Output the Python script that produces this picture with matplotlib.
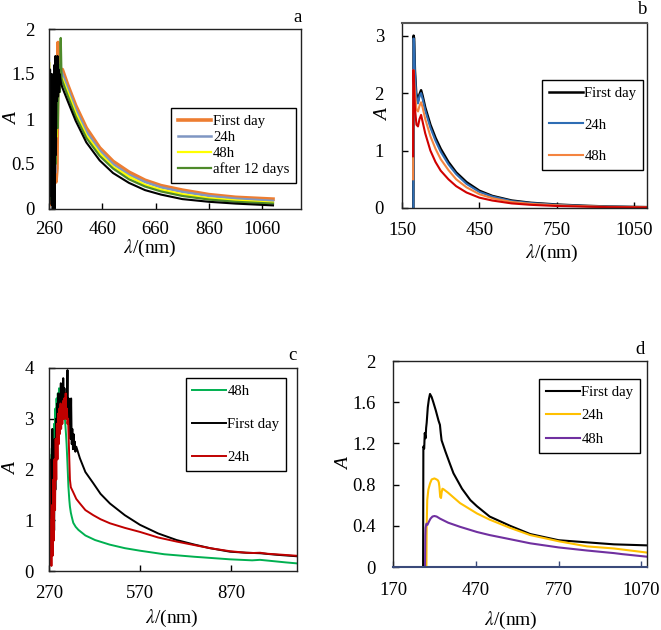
import matplotlib
matplotlib.use("Agg")
import matplotlib.pyplot as plt

plt.rcParams['font.family'] = ['Liberation Serif', 'DejaVu Serif']
plt.rcParams['mathtext.fontset'] = 'stix'

# ---------------- Panel a ----------------
a_first_x = [261, 263, 266, 270, 274, 278, 282, 286, 290, 292, 294, 297, 300, 305, 310, 330, 360, 400, 450, 500, 560, 620, 680, 760, 860, 960, 1100]
a_first_y = [0.1, 0.05, 0.05, 0.3, 0.6, 0.2, 0.8, 0.3, 0.45, 1.2, 1.85, 1.6, 1.5, 1.55, 1.55, 1.38, 1.15, 0.90, 0.68, 0.53, 0.41, 0.32, 0.26, 0.21, 0.16, 0.13, 0.11]
a_24h_x = [261, 264, 267, 271, 275, 279, 283, 287, 291, 295, 299, 303, 310, 330, 360, 400, 450, 500, 560, 620, 680, 760, 860, 960, 1100]
a_24h_y = [0.5, 1.0, 0.2, 0.9, 0.1, 0.8, 0.4, 1.2, 0.9, 1.5, 1.4, 1.55, 1.5, 1.34, 1.11, 0.86, 0.65, 0.50, 0.38, 0.30, 0.24, 0.19, 0.145, 0.115, 0.09]
a_48h_x = [261, 263, 265, 268, 272, 276, 280, 284, 288, 292, 296, 300, 305, 310, 330, 360, 400, 450, 500, 560, 620, 680, 760, 860, 960, 1100]
a_48h_y = [1.62, 1.2, 0.3, 0.9, 0.2, 1.0, 0.5, 1.2, 0.8, 1.4, 1.6, 1.5, 1.47, 1.45, 1.30, 1.07, 0.82, 0.62, 0.47, 0.36, 0.27, 0.215, 0.165, 0.12, 0.095, 0.07]
a_12d_x = [261, 263, 266, 269, 273, 277, 281, 285, 289, 293, 297, 301, 304, 307, 310, 330, 360, 400, 450, 500, 560, 620, 680, 760, 860, 960, 1100]
a_12d_y = [1.3, 0.2, 1.1, 0.1, 0.9, 0.3, 1.3, 0.5, 1.5, 0.9, 1.6, 1.3, 1.9, 1.45, 1.42, 1.26, 1.03, 0.79, 0.59, 0.45, 0.33, 0.25, 0.195, 0.145, 0.105, 0.08, 0.06]
a_blk_x = [262, 264, 266, 268, 270, 272, 274, 276, 278, 280, 282, 284, 286, 288, 290, 292, 294, 296, 298, 300, 305, 310, 330, 360, 400, 450, 500, 560, 620, 680, 760, 860, 960, 1100]
a_blk_y = [0.3, 1.55, 0.15, 1.5, 0.05, 1.45, 0.0, 1.5, 0.2, 1.6, 0.0, 1.7, 0.6, 1.45, 1.2, 1.7, 1.25, 1.55, 1.3, 1.5, 1.4, 1.35, 1.20, 0.98, 0.74, 0.54, 0.40, 0.29, 0.21, 0.16, 0.11, 0.08, 0.06, 0.04]
a_xticks = [260, 460, 660, 860, 1060]
a_yticks = [0, 0.5, 1, 1.5, 2]
a_yticklabels = ['0', '0.5', '1', '1.5', '2']

# ---------------- Panel b ----------------
b_first_x = [194, 195, 197, 200, 205, 212, 218, 224, 230, 240, 260, 280, 300, 330, 360, 400, 450, 500, 575, 650, 750, 850, 950, 1100]
b_first_y = [0.0, 3.0, 2.95, 2.4, 2.0, 1.86, 1.98, 2.05, 1.95, 1.75, 1.45, 1.22, 1.03, 0.80, 0.62, 0.45, 0.30, 0.21, 0.13, 0.09, 0.06, 0.04, 0.025, 0.015]
b_24h_x = [194, 195, 197, 200, 205, 212, 218, 224, 230, 240, 260, 280, 300, 330, 360, 400, 450, 500, 575, 650, 750, 850, 950, 1100]
b_24h_y = [0.0, 2.95, 2.9, 2.35, 1.95, 1.82, 1.95, 2.0, 1.9, 1.7, 1.4, 1.17, 0.98, 0.76, 0.59, 0.42, 0.28, 0.20, 0.12, 0.085, 0.055, 0.037, 0.023, 0.014]
b_48h_x = [193, 194, 196, 200, 206, 212, 218, 224, 230, 240, 260, 280, 300, 330, 360, 400, 450, 500, 575, 650, 750, 850, 950, 1100]
b_48h_y = [0.5, 2.4, 2.3, 2.0, 1.72, 1.68, 1.78, 1.84, 1.75, 1.55, 1.25, 1.03, 0.85, 0.66, 0.50, 0.36, 0.24, 0.17, 0.105, 0.072, 0.047, 0.032, 0.02, 0.012]
b_red_x = [193, 194, 196, 200, 206, 212, 218, 224, 230, 240, 260, 280, 300, 330, 360, 400, 450, 500, 575, 650, 750, 850, 950, 1100]
b_red_y = [0.9, 2.4, 2.2, 1.75, 1.45, 1.42, 1.55, 1.62, 1.5, 1.3, 1.0, 0.8, 0.65, 0.50, 0.38, 0.27, 0.18, 0.13, 0.08, 0.055, 0.035, 0.025, 0.015, 0.01]
b_xticks = [150, 450, 750, 1050]
b_yticks = [0, 1, 2, 3]

# ---------------- Panel c ----------------
c_48h_x = [271, 273, 275, 277, 279, 281, 283, 285, 287, 289, 291, 293, 295, 297, 299, 301, 303, 306, 309.6, 312, 316, 320, 323, 326, 328, 331, 334, 337, 339, 342, 345, 350, 358, 367, 390, 422, 470, 520, 570, 650, 750, 867, 940, 966, 1000, 1050, 1088]
c_48h_y = [2.4, 0.8, 2.0, 0.5, 2.3, 0.9, 2.7, 1.3, 2.9, 2.0, 3.2, 2.6, 3.4, 3.0, 3.5, 3.2, 3.6, 3.4, 3.67, 3.4, 3.2, 3.0, 2.97, 2.7, 2.5, 2.1, 1.66, 1.4, 1.27, 1.15, 1.07, 0.95, 0.87, 0.81, 0.70, 0.61, 0.52, 0.45, 0.40, 0.33, 0.28, 0.23, 0.21, 0.22, 0.20, 0.17, 0.15]
c_first_x = [271, 273, 275, 277, 279, 281, 283, 285, 287, 289, 291, 293, 295, 297, 299, 301, 303, 305, 307, 309, 311, 313, 315, 317, 319, 321, 323, 325, 327, 329, 331, 333, 335, 337, 339, 341, 343, 345, 347, 349, 351, 353, 355, 357, 360, 372, 390, 416, 440, 471, 520, 570, 630, 691, 750, 801, 867, 920, 966, 1020, 1088]
c_first_y = [0.2, 1.5, 0.5, 2.2, 0.6, 2.8, 1.0, 2.0, 0.8, 2.6, 1.6, 3.0, 2.2, 3.3, 2.7, 3.5, 2.9, 3.4, 3.0, 3.7, 3.1, 3.6, 3.2, 3.8, 3.3, 3.6, 3.1, 3.5, 3.0, 3.3, 3.96, 3.0, 3.4, 2.9, 3.3, 2.6, 3.4, 2.5, 2.8, 2.4, 2.7, 2.4, 2.55, 2.35, 2.45, 2.22, 1.95, 1.73, 1.52, 1.33, 1.10, 0.91, 0.74, 0.61, 0.52, 0.45, 0.38, 0.36, 0.35, 0.32, 0.29]
c_24h_x = [270, 272, 274, 276, 278, 280, 282, 284, 286, 288, 290, 292, 294, 296, 298, 300, 302, 304, 306, 308, 310, 312, 314, 316, 318, 320, 322, 325, 327, 329, 331, 333, 335, 337, 339, 342, 346, 350, 360, 372, 390, 416, 440, 471, 520, 570, 630, 691, 750, 801, 867, 920, 945, 966, 990, 1040, 1088]
c_24h_y = [2.6, 1.5, 0.2, 1.0, 0.1, 1.3, 0.3, 1.8, 0.6, 2.2, 1.2, 2.6, 1.8, 2.9, 2.2, 3.1, 2.5, 3.2, 2.7, 3.3, 2.8, 3.2, 2.9, 3.35, 3.0, 3.4, 3.0, 3.5, 3.0, 3.2, 2.9, 3.0, 2.6, 2.2, 1.8, 1.65, 1.6, 1.55, 1.42, 1.33, 1.2, 1.10, 1.02, 0.94, 0.85, 0.77, 0.66, 0.58, 0.51, 0.45, 0.39, 0.36, 0.355, 0.36, 0.34, 0.32, 0.30]
c_xticks = [270, 570, 870]
c_yticks = [0, 1, 2, 3, 4]

# ---------------- Panel d ----------------
d_first_x = [279, 280, 283, 285, 288, 290, 292, 296, 300, 304, 310, 316, 325, 335, 340, 343, 346, 360, 375, 389, 420, 450, 474, 520, 594, 667, 770, 870, 970, 1090]
d_first_y = [0.0, 1.17, 1.15, 1.3, 1.25, 1.35, 1.4, 1.55, 1.63, 1.68, 1.65, 1.6, 1.52, 1.42, 1.38, 1.3, 1.23, 1.12, 1.01, 0.91, 0.76, 0.65, 0.59, 0.49, 0.40, 0.32, 0.26, 0.24, 0.22, 0.21]
d_24h_x = [291, 292, 294, 298, 304, 310, 320, 328, 333, 336, 338, 341, 344, 346, 349, 353, 370, 413, 474, 520, 594, 667, 770, 873, 970, 1090]
d_24h_y = [0.0, 0.4, 0.65, 0.75, 0.81, 0.85, 0.86, 0.85, 0.84, 0.82, 0.78, 0.68, 0.67, 0.72, 0.76, 0.755, 0.72, 0.62, 0.52, 0.46, 0.38, 0.31, 0.25, 0.20, 0.18, 0.14]
d_48h_x = [286, 287, 288, 291, 295, 300, 306, 313, 320, 328, 340, 370, 413, 474, 520, 594, 667, 770, 873, 950, 970, 1000, 1090]
d_48h_y = [0.0, 0.3, 0.38, 0.42, 0.41, 0.44, 0.47, 0.49, 0.495, 0.49, 0.47, 0.43, 0.39, 0.34, 0.31, 0.27, 0.23, 0.19, 0.16, 0.14, 0.135, 0.125, 0.10]
d_xticks = [170, 470, 770, 1070]
d_yticks = [0, 0.4, 0.8, 1.2, 1.6, 2]
d_yticklabels = ['0', '0.4', '0.8', '1.2', '1.6', '2']

W, H = 661, 630
fig = plt.figure(figsize=(W / 100, H / 100), dpi=100)
FS = 13.5


def make_ax(x0, y0, x1, y1):
    return fig.add_axes([x0 / W, 1 - y1 / H, (x1 - x0) / W, (y1 - y0) / H])


def style(ax, box, xpad, ypad, xlab_xy, ylab_x):
    x0, y0, x1, y1 = box
    w, h = x1 - x0, y1 - y0
    ax.tick_params(direction='in', length=4, labelsize=FS, width=1)
    ax.tick_params(axis='x', pad=xpad)
    ax.tick_params(axis='y', pad=ypad)
    for s in ax.spines.values():
        s.set_linewidth(1.0)
        s.set_color('#222222')
    ax.set_xlabel(r'$\lambda$/(nm)', fontsize=FS + 0.5)
    ax.xaxis.label.set_va('center')
    ax.xaxis.set_label_coords((xlab_xy[0] - x0) / w, -(xlab_xy[1] - y1) / h)
    ax.set_ylabel('A', style='italic', fontsize=FS + 0.5)
    ax.yaxis.label.set_va('center')
    ax.yaxis.set_label_coords((ylab_x - x0) / w, 0.5)


leg_kw = dict(fontsize=10.6, frameon=True, fancybox=False, framealpha=1,
              edgecolor='black', borderaxespad=0, handletextpad=0.1,
              borderpad=0.45)

# Panel a
box = (49, 29, 301, 209)
ax = make_ax(*box)
ax.plot(a_first_x, a_first_y, color='#ED7D31', lw=2.6, label='First day')
ax.plot(a_24h_x, a_24h_y, color='#7F96C3', lw=1.8, label='24h')
ax.plot(a_48h_x, a_48h_y, color='#FFFF00', lw=1.6, label='48h')
ax.plot(a_12d_x, a_12d_y, color='#4E8A2A', lw=1.6, label='after 12 days')
ax.plot(a_blk_x, a_blk_y, color='black', lw=1.5, label='_nolegend_')
ax.set_xlim(260, 1205)
ax.set_ylim(0, 2)
ax.set_xticks(a_xticks)
ax.set_yticks(a_yticks)
ax.set_yticklabels(a_yticklabels)
style(ax, box, 9, 10.5, (150, 248), 13)
ax.legend(loc='upper right', bbox_to_anchor=(0.98, 0.561), handlelength=2.3,
          labelspacing=0.18, **leg_kw)
fig.text(298 / W, 1 - 17 / H, 'a', fontsize=FS, ha='center', va='center')

# Panel b
box = (402, 23, 647, 208)
ax = make_ax(*box)
ax.plot(b_first_x, b_first_y, color='black', lw=1.8, label='First day')
ax.plot(b_24h_x, b_24h_y, color='#2E6DB4', lw=1.5, label='24h')
ax.plot(b_48h_x, b_48h_y, color='#F4843F', lw=1.5, label='48h')
ax.plot(b_red_x, b_red_y, color='#D00000', lw=1.5, label='_nolegend_')
ax.set_xlim(150, 1100)
ax.set_ylim(0, 3.22)
ax.set_xticks(b_xticks)
ax.set_yticks(b_yticks)
style(ax, box, 10, 13, (552, 253), 384)
ax.spines['top'].set_color('#555555')
ax.spines['top'].set_linewidth(1.5)
ax.legend(loc='upper right', bbox_to_anchor=(0.984, 0.692), handlelength=2.3,
          labelspacing=1.25, **leg_kw)
fig.text(643 / W, 1 - 9 / H, 'b', fontsize=FS, ha='center', va='center')

# Panel c
box = (49, 368, 297, 571)
ax = make_ax(*box)
ax.plot(c_48h_x, c_48h_y, color='#00B050', lw=1.4, label='48h')
ax.plot(c_first_x, c_first_y, color='black', lw=1.4, label='First day')
ax.plot(c_24h_x, c_24h_y, color='#C00000', lw=1.4, label='24h')
ax.set_xlim(270, 1088)
ax.set_ylim(0, 4)
ax.set_xticks(c_xticks)
ax.set_yticks(c_yticks)
style(ax, box, 10, 11, (172, 618), 12)
ax.legend(loc='upper right', bbox_to_anchor=(0.956, 0.951), handlelength=2.3,
          labelspacing=1.35, **leg_kw)
fig.text(292 / W, 1 - 356 / H, 'c', fontsize=FS, ha='center', va='center')

# Panel d
box = (393, 361, 647, 567)
ax = make_ax(*box)
ax.plot(d_first_x, d_first_y, color='black', lw=1.5, label='First day')
ax.plot(d_24h_x, d_24h_y, color='#FFC000', lw=1.5, label='24h')
ax.plot(d_48h_x, d_48h_y, color='#7030A0', lw=1.5, label='48h')
ax.set_xlim(170, 1090)
ax.set_ylim(0, 2)
ax.set_xticks(d_xticks)
ax.set_yticks(d_yticks)
ax.set_yticklabels(d_yticklabels)
style(ax, box, 10.5, 12.5, (511, 620), 345)
ax.spines['bottom'].set_color('#3A4A7A')
ax.spines['bottom'].set_linewidth(1.5)
ax.tick_params(axis='x', color='#3A4A7A')
ax.legend(loc='upper right', bbox_to_anchor=(0.972, 0.913), handlelength=2.3,
          labelspacing=0.7, **leg_kw)
fig.text(640 / W, 1 - 349 / H, 'd', fontsize=FS, ha='center', va='center')

fig.savefig('out.png', dpi=100)
